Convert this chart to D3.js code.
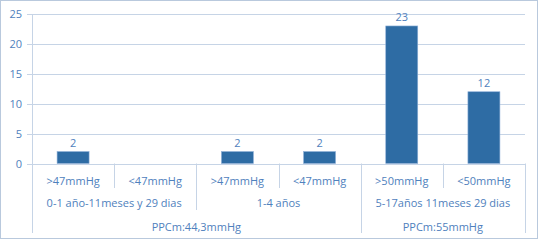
<html>
<head>
<meta charset="utf-8">
<script src="https://d3js.org/d3.v7.min.js"></script>
<style>
    body, html { margin: 0; padding: 0; background: #fff; }
    svg text { font-family: "Open Sans", "Liberation Sans", sans-serif; font-size: 11px; fill: #4F81BD; }
</style>
</head>
<body>
<div id="chart"></div>
<script>

// data
var categories = [">47mmHg", "<47mmHg", ">47mmHg", "<47mmHg", ">50mmHg", "<50mmHg"];
var values = [2, null, 2, 2, 23, 12];
var ageGroups = [
    {label: "0-1 año-11meses y 29 dias", from: 0, to: 2},
    {label: "1-4 años", from: 2, to: 4},
    {label: "5-17años 11meses 29 dias", from: 4, to: 6}
];
var ppcGroups = [
    {label: "PPCm:44,3mmHg", from: 0, to: 4},
    {label: "PPCm:55mmHg", from: 4, to: 6}
];
var yTicks = [0, 5, 10, 15, 20, 25];

var w = 539, h = 240;
var margin = {top: 14, left: 32, right: 14, bottom: 76};
var width = w - margin.left - margin.right;
var height = 163.5 - margin.top;

var svg = d3.select("#chart").append("svg")
    .attr("width", w)
    .attr("height", h);

// outer frame
svg.append("rect")
    .attr("x", 0.5).attr("y", 0.5)
    .attr("width", w - 2).attr("height", h - 2)
    .attr("fill", "none")
    .attr("stroke", "#B9C9DD");

var g = svg.append("g")
    .attr("transform", "translate(" + margin.left + "," + margin.top + ")");

var x = d3.scaleBand()
    .domain(d3.range(categories.length))
    .range([0, width])
    .paddingInner(0.6)
    .paddingOuter(0.3);

var y = d3.scaleLinear()
    .domain([0, 25])
    .range([height, 0]);

var step = x.step();
var edge = function (i) { return i * width / categories.length; };

// gridlines
g.selectAll(".grid")
    .data(yTicks)
    .enter().append("line")
    .attr("x1", -5).attr("x2", width)
    .attr("y1", function (d) { return Math.round(y(d)) + 0.5; })
    .attr("y2", function (d) { return Math.round(y(d)) + 0.5; })
    .attr("stroke", "#C6D4E6");

// y tick labels
g.selectAll(".ytick")
    .data(yTicks)
    .enter().append("text")
    .attr("x", -10)
    .attr("y", function (d) { return y(d) + 4; })
    .attr("text-anchor", "end")
    .text(function (d) { return d; });

// left axis line, runs down through the category rows
g.append("line")
    .attr("x1", 0.5).attr("x2", 0.5)
    .attr("y1", 0).attr("y2", 233 - margin.top)
    .attr("stroke", "#C6D4E6");

// bars
var barData = values.map(function (v, i) { return {i: i, v: v}; })
    .filter(function (d) { return d.v != null; });

g.selectAll(".bar")
    .data(barData)
    .enter().append("rect")
    .attr("x", function (d) { return edge(d.i) + (step - 32) / 2; })
    .attr("width", 32)
    .attr("y", function (d) { return y(d.v); })
    .attr("height", function (d) { return height - y(d.v); })
    .attr("fill", "#2E6CA4")
    .attr("stroke", "#8FB0D8")
    .attr("stroke-width", 0.6);

g.selectAll(".val")
    .data(barData)
    .enter().append("text")
    .attr("x", function (d) { return edge(d.i) + step / 2; })
    .attr("y", function (d) { return y(d.v) - 5; })
    .attr("text-anchor", "middle")
    .text(function (d) { return d.v; });

// category row 1
g.selectAll(".cat")
    .data(categories)
    .enter().append("text")
    .attr("x", function (d, i) { return edge(i) + step / 2; })
    .attr("y", 185 - margin.top)
    .attr("text-anchor", "middle")
    .text(function (d) { return d; });

g.selectAll(".sep1")
    .data(d3.range(1, categories.length + 1))
    .enter().append("line")
    .attr("x1", function (i) { return Math.round(edge(i)) + 0.5; })
    .attr("x2", function (i) { return Math.round(edge(i)) + 0.5; })
    .attr("y1", height).attr("y2", 188 - margin.top)
    .attr("stroke", "#C6D4E6");

// category row 2
g.selectAll(".age")
    .data(ageGroups)
    .enter().append("text")
    .attr("x", function (d) { return (edge(d.from) + edge(d.to)) / 2; })
    .attr("y", 207 - margin.top)
    .attr("text-anchor", "middle")
    .text(function (d) { return d.label; });

g.selectAll(".sep2")
    .data(ageGroups)
    .enter().append("line")
    .attr("x1", function (d) { return Math.round(edge(d.to)) + 0.5; })
    .attr("x2", function (d) { return Math.round(edge(d.to)) + 0.5; })
    .attr("y1", 188 - margin.top).attr("y2", 210 - margin.top)
    .attr("stroke", "#C6D4E6");

// category row 3
g.selectAll(".ppc")
    .data(ppcGroups)
    .enter().append("text")
    .attr("x", function (d) { return (edge(d.from) + edge(d.to)) / 2; })
    .attr("y", 231 - margin.top)
    .attr("text-anchor", "middle")
    .text(function (d) { return d.label; });

g.selectAll(".sep3")
    .data(ppcGroups)
    .enter().append("line")
    .attr("x1", function (d) { return Math.round(edge(d.to)) + 0.5; })
    .attr("x2", function (d) { return Math.round(edge(d.to)) + 0.5; })
    .attr("y1", 210 - margin.top).attr("y2", 233 - margin.top)
    .attr("stroke", "#C6D4E6");

</script>
</body>
</html>
